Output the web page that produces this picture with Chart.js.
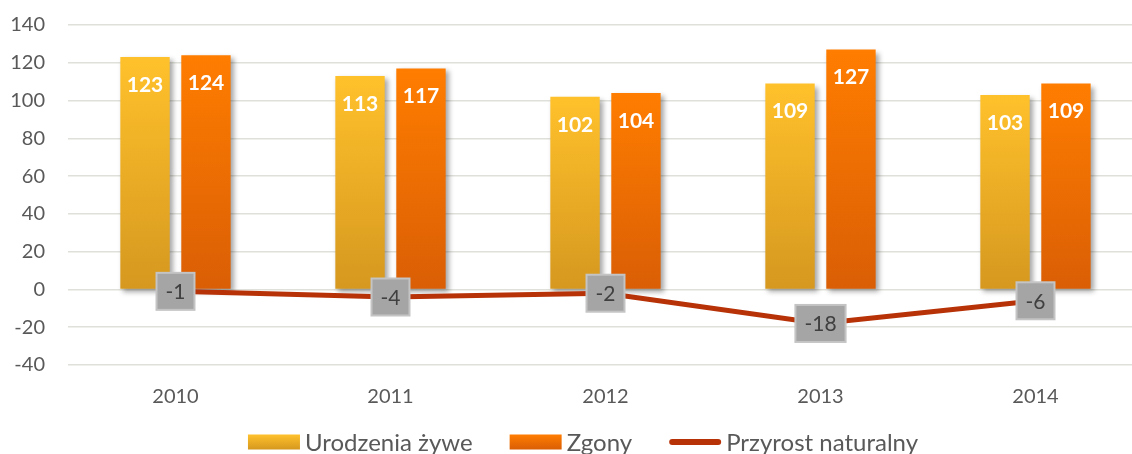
<!DOCTYPE html>
<html>
<head>
<meta charset="utf-8">
<script src="https://cdn.jsdelivr.net/npm/chart.js@4.4.1/dist/chart.umd.min.js"></script>
<style>
  html, body { margin: 0; padding: 0; background: #fff; overflow: hidden; }
  #wrap { width: 1146px; height: 454px; position: relative; }
</style>
</head>
<body>
<div id="wrap"><canvas id="chart"></canvas></div>
<script>
'use strict';

// dane
const years = ['2010', '2011', '2012', '2013', '2014'];
const births = [123, 113, 102, 109, 103];
const deaths = [124, 117, 104, 127, 109];
const growth = [-1, -4, -2, -18, -6];
const seriesNames = ['Urodzenia żywe', 'Zgony', 'Przyrost naturalny'];
const yMin = -40, yMax = 140, yStep = 20;

const FONT = "Lato, 'Open Sans', sans-serif";
const TEXT = '#595959';

// gradient pionowy od wierzchołka słupka do zera
function barFill(top, bottom) {
    return (ctx) => {
        const chart = ctx.chart;
        const y = chart.scales && chart.scales.y;
        if (!chart.chartArea || !y || ctx.raw === undefined) return top;
        const y0 = y.getPixelForValue(ctx.raw);
        const y1 = y.getPixelForValue(0);
        if (!isFinite(y0) || !isFinite(y1) || y0 === y1) return top;
        const g = chart.ctx.createLinearGradient(0, y0, 0, y1);
        g.addColorStop(0, top);
        g.addColorStop(1, bottom);
        return g;
    };
}

const barShadow = {
    id: 'barShadow',
    beforeDatasetDraw(chart, args) {
        if (args.meta.type !== 'bar') return;
        const c = chart.ctx;
        c.save();
        c.shadowColor = 'rgba(0,0,0,0.35)';
        c.shadowBlur = 5;
        c.shadowOffsetX = 3;
        c.shadowOffsetY = 3;
    },
    afterDatasetDraw(chart, args) {
        if (args.meta.type === 'bar') chart.ctx.restore();
    }
};

const valueLabels = {
    id: 'valueLabels',
    afterDatasetsDraw(chart) {
        const c = chart.ctx;
        c.save();
        chart.data.datasets.forEach((ds, i) => {
            const meta = chart.getDatasetMeta(i);
            meta.data.forEach((el, j) => {
                const v = ds.data[j];
                if (meta.type === 'bar') {
                    c.font = "bold 21px " + FONT;
                    c.fillStyle = '#ffffff';
                    c.textAlign = 'center';
                    c.textBaseline = 'middle';
                    c.fillText(String(v), el.x, el.y + 28);
                } else {
                    c.font = "21px " + FONT;
                    const txt = String(v);
                    const w = c.measureText(txt).width + 18;
                    const h = 37;
                    c.fillStyle = '#a5a5a5';
                    c.strokeStyle = '#c4c4c4';
                    c.lineWidth = 2;
                    c.fillRect(el.x - w / 2, el.y - h / 2, w, h);
                    c.strokeRect(el.x - w / 2, el.y - h / 2, w, h);
                    c.fillStyle = '#404040';
                    c.textAlign = 'center';
                    c.textBaseline = 'middle';
                    c.fillText(txt, el.x, el.y + 1);
                }
            });
        });
        c.restore();
    }
};

// legenda: kolejność jak w oryginale (słupki, potem linia)
const legendOrder = [1, 2, 0];

const bottomLegend = {
    id: 'bottomLegend',
    afterDraw(chart) {
        const c = chart.ctx;
        const cy = 442;
        const boxW = 52, boxH = 15, gapText = 5, gapItem = 37;
        c.save();
        c.font = "24px " + FONT;
        c.textBaseline = 'middle';
        c.textAlign = 'left';
        const items = legendOrder.map(i => chart.data.datasets[i]);
        const widths = items.map(ds => boxW + gapText + c.measureText(ds.label).width);
        const total = widths.reduce((a, b) => a + b, 0) + gapItem * (widths.length - 1);
        let x = 583 - total / 2;
        items.forEach((ds, k) => {
            if (ds.type === 'line') {
                c.strokeStyle = ds.borderColor;
                c.lineWidth = 6;
                c.lineCap = 'round';
                c.beginPath();
                c.moveTo(x + 3, cy);
                c.lineTo(x + boxW - 3, cy);
                c.stroke();
            } else {
                const g = c.createLinearGradient(0, cy - boxH / 2, 0, cy + boxH / 2);
                g.addColorStop(0, ds.gradTop);
                g.addColorStop(1, ds.gradBottom);
                c.fillStyle = g;
                c.fillRect(x, cy - boxH / 2, boxW, boxH);
            }
            c.fillStyle = TEXT;
            c.fillText(ds.label, x + boxW + gapText, cy + 1);
            x += widths[k] + gapItem;
        });
        c.restore();
    }
};

new Chart(document.getElementById('chart'), {
    data: {
        labels: years,
        datasets: [
            {
                type: 'line',
                label: seriesNames[2],
                data: growth,
                borderColor: '#b83208',
                backgroundColor: '#b83208',
                borderWidth: 5,
                pointRadius: 0,
                tension: 0,
                order: 0
            },
            {
                type: 'bar',
                label: seriesNames[0],
                data: births,
                gradTop: '#ffc12b',
                gradBottom: '#d6981f',
                backgroundColor: barFill('#ffc12b', '#d6981f'),
                categoryPercentage: 0.567,
                barPercentage: 0.81,
                order: 1
            },
            {
                type: 'bar',
                label: seriesNames[1],
                data: deaths,
                gradTop: '#ff7d00',
                gradBottom: '#da5e05',
                backgroundColor: barFill('#ff7d00', '#da5e05'),
                categoryPercentage: 0.567,
                barPercentage: 0.81,
                order: 1
            }
        ]
    },
    options: {
        responsive: true,
        maintainAspectRatio: false,
        animation: false,
        layout: { padding: { top: 25, right: 3, bottom: 50, left: 0 } },
        plugins: {
            legend: { display: false },
            tooltip: { enabled: false }
        },
        scales: {
            x: {
                afterFit: (s) => { s.height = 39; },
                grid: { display: false, drawTicks: false },
                border: { display: false },
                ticks: { color: TEXT, font: { family: FONT, size: 20 }, padding: 20 }
            },
            y: {
                min: yMin,
                max: yMax,
                afterFit: (s) => { s.width = 68; s.paddingTop = 0; s.paddingBottom = 0; },
                grid: { color: '#e0e0da', lineWidth: 1.5, drawTicks: false },
                border: { display: false },
                ticks: { stepSize: yStep, color: TEXT, font: { family: FONT, size: 20 }, padding: 23 }
            }
        }
    },
    plugins: [barShadow, valueLabels, bottomLegend]
});
</script>
</body>
</html>
